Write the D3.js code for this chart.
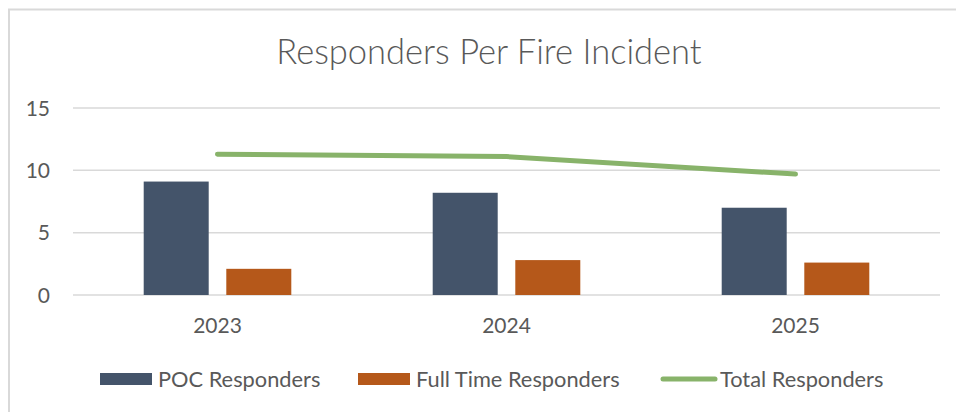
<!DOCTYPE html>
<html>
<head>
<meta charset="utf-8">
<script src="https://cdn.jsdelivr.net/npm/d3@7"></script>
<style>
  body { margin: 0; background: #fff; }
  svg { display: block; }
  text { font-family: Lato, "Open Sans", sans-serif; fill: #595959; }
</style>
</head>
<body>
<svg id="chart" width="956" height="412"></svg>
<script>
// data
const years = ['2023', '2024', '2025']
const pocResponders = [9.1, 8.2, 7.0]
const fullTimeResponders = [2.1, 2.8, 2.6]
const totalResponders = [11.3, 11.1, 9.7]
const yTicks = [0, 5, 10, 15]

const seriesNames = ['POC Responders', 'Full Time Responders', 'Total Responders']
const colors = {poc: '#44546a', ft: '#b5581a', total: '#88b36a', grid: '#d9d9d9', text: '#595959'}

const svg = d3.select('#chart')
const margin = {left: 73, right: 16, top: 108, bottom: 117}
const width = 956 - margin.left - margin.right
const height = 412 - margin.top - margin.bottom

// chart border
svg.append('rect')
  .attr('x', 9).attr('y', 9.5)
  .attr('width', 960).attr('height', 420)
  .attr('fill', 'none')
  .attr('stroke', colors.grid)
  .attr('stroke-width', 2)

svg.append('text')
  .attr('x', 489).attr('y', 64)
  .attr('text-anchor', 'middle')
  .attr('font-size', '34.5px')
  .attr('font-weight', 300)
  .text('Responders Per Fire Incident')

const g = svg.append('g').attr('transform', `translate(${margin.left},${margin.top})`)

const x = d3.scaleBand().domain(years).range([0, width]).paddingInner(0).paddingOuter(0)
const y = d3.scaleLinear().domain([0, 15]).range([height, 0])
// two bars inside each category
const inner = d3.scaleBand().domain(['poc', 'ft']).range([0, x.bandwidth()]).paddingInner(0.213).paddingOuter(0.856)

// gridlines
g.selectAll('.grid').data(yTicks).enter().append('line')
  .attr('x1', 0).attr('x2', width)
  .attr('y1', d => y(d)).attr('y2', d => y(d))
  .attr('stroke', colors.grid)
  .attr('stroke-width', 1.5)

// y labels
g.selectAll('.ylab').data(yTicks).enter().append('text')
  .attr('x', -23).attr('y', d => y(d))
  .attr('dy', '0.36em')
  .attr('text-anchor', 'end')
  .attr('font-size', '21px')
  .text(d => d)

// x labels
g.selectAll('.xlab').data(years).enter().append('text')
  .attr('x', d => x(d) + x.bandwidth() / 2)
  .attr('y', height + 38)
  .attr('text-anchor', 'middle')
  .attr('font-size', '21px')
  .text(d => d)

// bars
years.forEach((yr, i) => {
  g.append('rect')
    .attr('x', x(yr) + inner('poc'))
    .attr('y', y(pocResponders[i]))
    .attr('width', inner.bandwidth())
    .attr('height', y(0) - y(pocResponders[i]))
    .attr('fill', colors.poc)
  g.append('rect')
    .attr('x', x(yr) + inner('ft'))
    .attr('y', y(fullTimeResponders[i]))
    .attr('width', inner.bandwidth())
    .attr('height', y(0) - y(fullTimeResponders[i]))
    .attr('fill', colors.ft)
})

// total line
const line = d3.line()
  .x((d, i) => x(years[i]) + x.bandwidth() / 2)
  .y(d => y(d))
g.append('path')
  .datum(totalResponders)
  .attr('d', line)
  .attr('fill', 'none')
  .attr('stroke', colors.total)
  .attr('stroke-width', 5)
  .attr('stroke-linecap', 'round')
  .attr('stroke-linejoin', 'round')

// legend
const legend = svg.append('g').attr('transform', 'translate(0,379)')
const legendX = [100, 358, 661]
legend.append('rect').attr('x', legendX[0]).attr('y', -6).attr('width', 52).attr('height', 12).attr('fill', colors.poc)
legend.append('rect').attr('x', legendX[1]).attr('y', -6).attr('width', 52).attr('height', 12).attr('fill', colors.ft)
legend.append('line')
  .attr('x1', legendX[2] + 2).attr('x2', legendX[2] + 54)
  .attr('y1', 0).attr('y2', 0)
  .attr('stroke', colors.total).attr('stroke-width', 5).attr('stroke-linecap', 'round')
const textX = [158, 416, 720]
seriesNames.forEach((name, i) => {
  legend.append('text')
    .attr('x', textX[i]).attr('y', 0)
    .attr('dy', '0.35em')
    .attr('font-size', '21.8px')
    .text(name)
})
</script>
</body>
</html>
